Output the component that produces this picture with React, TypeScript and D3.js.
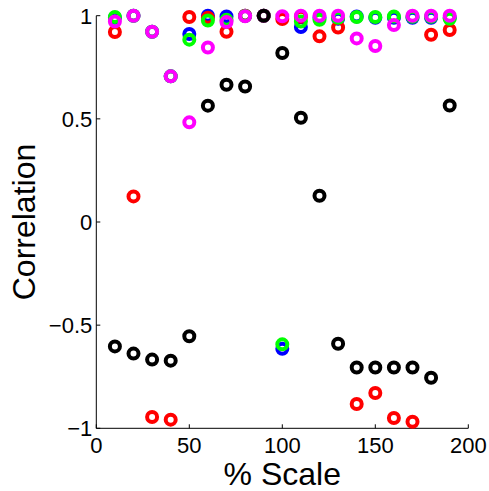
import React from "react";
import * as d3 from "d3";

const scalePct = [10, 20, 30, 40, 50, 60, 70, 80, 90, 100, 110, 120, 130, 140, 150, 160, 170, 180, 190];
const blueSeries = [0.99, 1.0, 0.922, 0.706, 0.911, 1.0, 0.996, 1.0, 1.0, -0.615, 0.945, 0.99, 0.985, 0.996, 0.99, 0.99, 0.99, 0.99, 0.99];
const redSeries = [0.921, 0.124, -0.945, -0.958, 0.994, 0.99, 0.922, 1.0, 1.0, 0.984, 0.995, 0.9, 0.943, -0.882, -0.829, -0.95, -0.968, 0.908, 0.931];
const greenSeries = [0.994, 1.0, 0.922, 0.706, 0.884, 0.977, 0.98, 0.998, 1.0, -0.593, 0.972, 0.98, 0.99, 0.994, 0.994, 0.996, 0.995, 0.995, 0.985];
const magentaSeries = [0.972, 1.0, 0.922, 0.706, 0.483, 0.846, 0.969, 0.997, 1.0, 0.997, 1.0, 1.0, 1.0, 0.89, 0.853, 0.955, 1.0, 1.0, 1.0];
const blackSeries = [-0.603, -0.638, -0.667, -0.672, -0.554, 0.564, 0.665, 0.657, 1.0, 0.819, 0.505, 0.127, -0.59, -0.705, -0.705, -0.705, -0.705, -0.755, 0.565];

const xTicks = [0, 50, 100, 150, 200];
const yTicks = [-1, -0.5, 0, 0.5, 1];
const yTickLabels = ["\u22121", "\u22120.5", "0", "0.5", "1"];

const series = [
  { name: "blue", color: "#0000ff", values: blueSeries },
  { name: "red", color: "#ff0000", values: redSeries },
  { name: "green", color: "#00ff00", values: greenSeries },
  { name: "magenta", color: "#ff00ff", values: magentaSeries },
  { name: "black", color: "#000000", values: blackSeries },
];

export default function App() {
  const W = 489, H = 491;
  const left = 96.3, right = 468.3, top = 15.7, bottom = 428.3;
  const x = d3.scaleLinear().domain([0, 200]).range([left, right]);
  const y = d3.scaleLinear().domain([-1, 1]).range([bottom, top]);
  const font = "'Liberation Sans', Arial, Helvetica, sans-serif";

  return (
    <svg width={W} height={H} style={{ position: "absolute", left: 0, top: 0, background: "#fff" }}>
      <rect x={0} y={0} width={W} height={H} fill="#fff" />
      <line x1={left} y1={top} x2={left} y2={bottom} stroke="#000" strokeWidth={1} />
      <line x1={left} y1={bottom} x2={right} y2={bottom} stroke="#000" strokeWidth={1} />
      {xTicks.map((t) => (
        <g key={"x" + t}>
          <line x1={x(t)} x2={x(t)} y1={bottom} y2={bottom - 4} stroke="#000" strokeWidth={1} />
          <text x={x(t)} y={bottom + 25} textAnchor="middle" fontFamily={font} fontSize={22} fill="#000">
            {t}
          </text>
        </g>
      ))}
      {yTicks.map((t, i) => (
        <g key={"y" + t}>
          <line x1={left} x2={left + 4} y1={y(t)} y2={y(t)} stroke="#000" strokeWidth={1} />
          <text x={left - 4} y={y(t) + 8} textAnchor="end" fontFamily={font} fontSize={22} fill="#000">
            {yTickLabels[i]}
          </text>
        </g>
      ))}
      {series.map((s) =>
        s.values.map((v, i) => (
          <circle
            key={s.name + i}
            cx={x(scalePct[i])}
            cy={y(v)}
            r={5}
            fill="none"
            stroke={s.color}
            strokeWidth={4}
          />
        ))
      )}
      <text x={(left + right) / 2} y={485} textAnchor="middle" fontFamily={font} fontSize={32} fill="#000">
        % Scale
      </text>
      <text
        transform={`translate(35, ${(top + bottom) / 2}) rotate(-90)`}
        textAnchor="middle"
        fontFamily={font}
        fontSize={32}
        fill="#000"
      >
        Correlation
      </text>
    </svg>
  );
}
